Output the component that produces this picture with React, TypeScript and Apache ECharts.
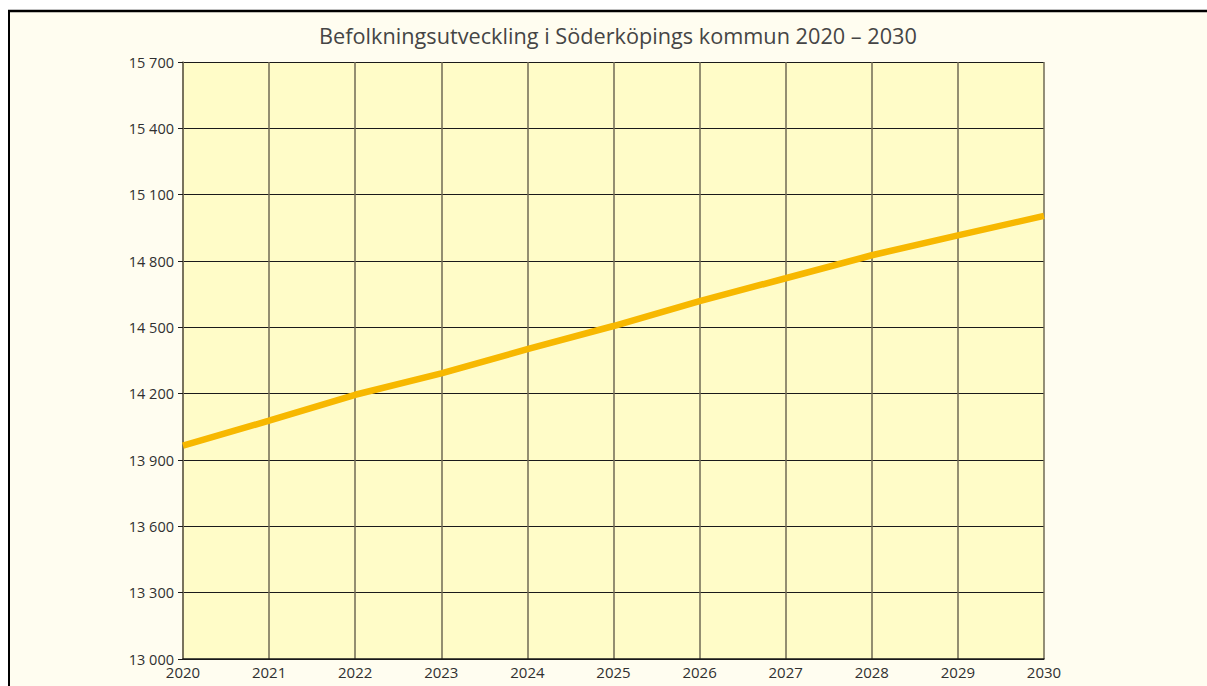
import React, { useEffect, useRef } from "react";
import * as echarts from "echarts";

const years = ["2020", "2021", "2022", "2023", "2024", "2025", "2026", "2027", "2028", "2029", "2030"];
const population = [13965, 14078, 14195, 14292, 14401, 14506, 14619, 14722, 14826, 14916, 15004];
const yMin = 13000;
const yMax = 15700;
const yStep = 300;
const title = "Befolkningsutveckling i Söderköpings kommun 2020 – 2030";

export default function App() {
  const ref = useRef<HTMLDivElement>(null);
  useEffect(() => {
    if (!ref.current) return;
    const chart = echarts.init(ref.current, null, { renderer: "svg" });
    const font = "'Open Sans', 'Liberation Sans', sans-serif";
    chart.setOption({
      animation: false,
      backgroundColor: "#ffffff",
      graphic: [
        {
          type: "rect",
          z: -10,
          silent: true,
          shape: { x: 9, y: 11, width: 1198, height: 675 },
          style: { fill: "#fffdf0" },
        },
        {
          type: "line",
          z: -9,
          silent: true,
          shape: { x1: 8, y1: 11, x2: 1207, y2: 11 },
          style: { stroke: "#000000", lineWidth: 2.5 },
        },
        {
          type: "line",
          z: -9,
          silent: true,
          shape: { x1: 9, y1: 10, x2: 9, y2: 686 },
          style: { stroke: "#000000", lineWidth: 2 },
        },
      ],
      title: {
        text: title,
        left: 613,
        top: 19,
        textAlign: "center",
        textStyle: { fontFamily: font, fontSize: 21.7, fontWeight: "normal", color: "#454545" },
      },
      grid: {
        left: 183,
        top: 62,
        right: 163,
        bottom: 27,
        show: true,
        backgroundColor: "#fffcc8",
        borderWidth: 0,
        containLabel: false,
      },
      xAxis: {
        type: "category",
        data: years,
        boundaryGap: false,
        axisLine: { show: true, lineStyle: { color: "#1a1a1a", width: 1.5 } },
        axisTick: { show: false },
        axisLabel: { fontFamily: font, fontSize: 15, color: "#303030", margin: 5 },
        splitLine: { show: true, lineStyle: { color: "#6f6a55", width: 1.5 } },
      },
      yAxis: {
        type: "value",
        min: yMin,
        max: yMax,
        interval: yStep,
        axisLine: { show: true, lineStyle: { color: "#6f6a55", width: 1.5 } },
        axisTick: { show: true, length: 5, lineStyle: { color: "#1a1a1a" } },
        axisLabel: {
          fontFamily: font,
          fontSize: 14.5,
          color: "#303030",
          margin: 9,
          lineHeight: 15,
          padding: [0, 0, 5, 0],
          formatter: (v: number) => String(v).replace(/\B(?=(\d{3})+(?!\d))/g, " "),
        },
        splitLine: { show: true, lineStyle: { color: "#1a1a1a", width: 1.2 } },
      },
      series: [
        {
          type: "line",
          data: population,
          symbol: "none",
          lineStyle: { color: "#f7b800", width: 6.5 },
          z: 5,
        },
      ],
    });
    return () => chart.dispose();
  }, []);
  return (
    <div
      ref={ref}
      style={{ position: "fixed", left: 0, top: 0, width: 1207, height: 686 }}
    />
  );
}
